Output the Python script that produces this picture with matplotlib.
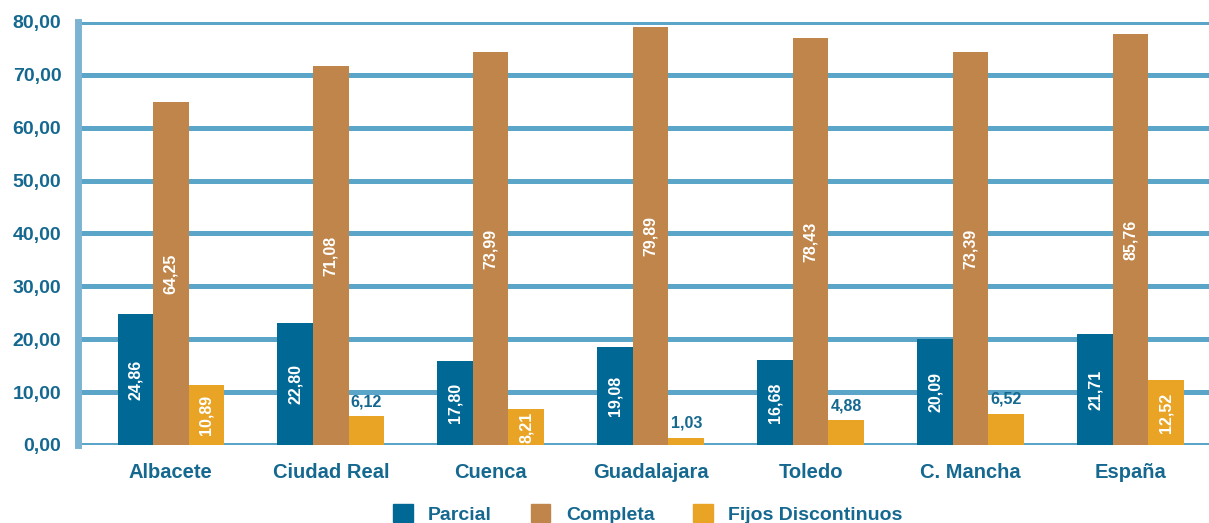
import numpy as np
import matplotlib
matplotlib.use("Agg")
import matplotlib.pyplot as plt
from matplotlib.patches import Patch

plt.rcParams['font.family'] = ['Liberation Sans', 'DejaVu Sans']

provincias = ['Albacete', 'Ciudad Real', 'Cuenca', 'Guadalajara',
              'Toledo', 'C. Mancha', 'España']
series = ['Parcial', 'Completa', 'Fijos Discontinuos']

# bar heights as drawn in the picture
parcial = [24.8, 23.0, 15.9, 18.5, 16.1, 20.0, 21.0]
completa = [64.8, 71.6, 74.3, 79.0, 76.9, 74.3, 77.7]
fijos = [11.3, 5.5, 6.8, 1.4, 4.7, 5.9, 12.3]

# printed labels
lab_parcial = ['24,86', '22,80', '17,80', '19,08', '16,68', '20,09', '21,71']
lab_completa = ['64,25', '71,08', '73,99', '79,89', '78,43', '73,39', '85,76']
lab_fijos = ['10,89', '6,12', '8,21', '1,03', '4,88', '6,52', '12,52']

colors = ['#006894', '#C0854A', '#E9A426']
text_blue = '#15688F'
grid_blue = '#5AA5C8'

fig = plt.figure(figsize=(12.09, 5.23), dpi=100)
ax = fig.add_axes([78 / 1209, 1 - 445 / 523, 1 - 78 / 1209, 423 / 523])

x = np.arange(len(provincias))
w = 0.222
data = [parcial, completa, fijos]
labels = [lab_parcial, lab_completa, lab_fijos]

for k in range(3):
    xs = x + (k - 1) * w
    ax.bar(xs, data[k], width=w, color=colors[k], zorder=3)
    for xi, h, lab in zip(xs, data[k], labels[k]):
        if h > 6.5:
            ax.text(xi, h / 2, lab, rotation=90, ha='center', va='center',
                    color='white', fontsize=11.5, fontweight='bold', zorder=4)
        else:
            ax.text(xi, h + 1.3, lab, ha='center', va='bottom',
                    color=text_blue, fontsize=11.5, fontweight='bold', zorder=4)

ax.set_ylim(0, 80)
ax.set_xlim(-0.58, 6.49)
ax.set_yticks(np.arange(0, 81, 10))
ax.set_yticklabels(['%d,00' % v for v in range(0, 81, 10)])
ax.yaxis.grid(True, color=grid_blue, linewidth=3.6, zorder=1)
ax.set_axisbelow(True)
ax.set_xticks(x)
ax.set_xticklabels(provincias)

for s in ['top', 'right', 'bottom']:
    ax.spines[s].set_visible(False)
ax.spines['left'].set_color('#7DB3D2')
ax.spines['left'].set_linewidth(5)
ax.tick_params(length=0, labelcolor=text_blue, labelsize=14.5)
ax.tick_params(axis='y', pad=12, labelsize=14)
ax.tick_params(axis='x', pad=13)
for t in ax.get_xticklabels() + ax.get_yticklabels():
    t.set_fontweight('bold')
ax.axhline(0, color=grid_blue, linewidth=3.6, zorder=2)

handles = [Patch(color=c) for c in colors]
leg = fig.legend(handles, series, loc='lower center', ncol=3, frameon=False,
                 bbox_to_anchor=(0.536, -0.035), fontsize=14,
                 handlelength=1.0, handleheight=1.0, columnspacing=2.0,
                 handletextpad=0.8)
for t in leg.get_texts():
    t.set_color(text_blue)
    t.set_fontweight('bold')

fig.savefig('out.png', dpi=100)
